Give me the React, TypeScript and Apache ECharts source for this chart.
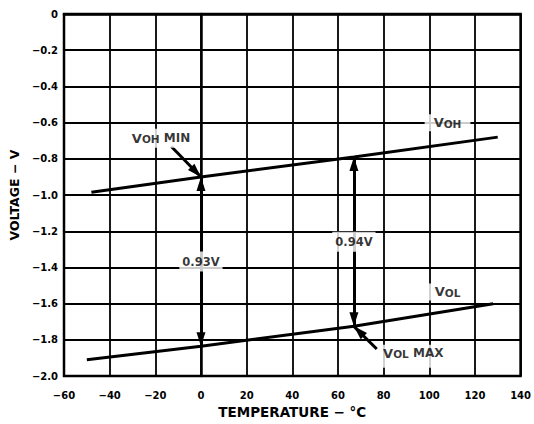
import React, { useEffect, useRef } from "react";
import * as echarts from "echarts";

// Axis ranges / ticks
const xMin = -60;
const xMax = 140;
const xStep = 20;
const yMin = -2.0;
const yMax = 0;
const yStep = 0.2;

// V_OH curve (temperature °C, volts)
const vohTemp = [-48, 0, 67, 130];
const vohVolt = [-0.985, -0.9, -0.79, -0.68];

// V_OL curve
const volTemp = [-50, 0, 67, 128];
const volVolt = [-1.91, -1.835, -1.725, -1.6];

// Double-headed span arrows between the curves
const spanTemp = [0, 67];
const spanTop = [-0.9, -0.79];
const spanBottom = [-1.835, -1.725];
const spanLabels = ["0.93V", "0.94V"];

// Callout labels
const calloutKeys = ["VOH", "VOL", "VOH_MIN", "VOL_MAX"];
const calloutTemp = [108, 108, -17.5, 93];
const calloutVolt = [-0.6, -1.535, -0.686, -1.89];

// Pointer arrows (from label to curve point)
const pointerFromTemp = [-13, 77];
const pointerFromVolt = [-0.732, -1.85];
const pointerToTemp = [0, 67];
const pointerToVolt = [-0.9, -1.725];

const FONT = "DejaVu Sans";

// arrow head (9 wide, 14 long) whose tip sits at the centre of a 28x28 box
const HEAD = "path://M0,0L0,0M28,28L28,28M14,14L18.5,28L9.5,28Z";

const rich = {
  v: { fontFamily: FONT, fontWeight: "bold", fontSize: 13, color: "#000", verticalAlign: "top", lineHeight: 13 },
  m: { fontFamily: FONT, fontWeight: "bold", fontSize: 12, color: "#000", verticalAlign: "top", lineHeight: 13 },
  s: { fontFamily: FONT, fontWeight: "bold", fontSize: 10.5, color: "#000", verticalAlign: "bottom", lineHeight: 11, padding: [10, 0, 0, 0] },
  n: { fontFamily: FONT, fontWeight: "bold", fontSize: 11.5, color: "#000" },
};

const calloutText: Record<string, string> = {
  VOH: "{v|V}{s|OH}",
  VOL: "{v|V}{s|OL}",
  VOH_MIN: "{v|V}{s|OH}{m| MIN}",
  VOL_MAX: "{v|V}{s|OL}{m| MAX}",
};
const calloutPad: Record<string, number[]> = {
  VOH: [2, 9, 2, 9],
  VOL: [2, 9, 2, 9],
  VOH_MIN: [3, 4, 3, 4],
  VOL_MAX: [2, 4, 8, 4],
};

const minus = (s: string) => s.replace("-", "\u2212");

export default function App() {
  const ref = useRef<HTMLDivElement>(null);
  useEffect(() => {
    if (!ref.current) return;
    const chart = echarts.init(ref.current, null, { renderer: "svg" });
    const axisText = { fontFamily: FONT, fontWeight: "bold" as const, fontSize: 10, color: "#000" };
    const labelBase = {
      show: true,
      position: "inside",
      color: "#000",
      textBorderWidth: 0,
      rich,
      backgroundColor: "#fff",
    };
    const option: any = {
      animation: false,
      backgroundColor: "#fff",
      grid: {
        left: 64,
        right: 11,
        top: 14,
        bottom: 43,
        show: true,
        borderColor: "#000",
        borderWidth: 2.5,
        backgroundColor: "transparent",
      },
      xAxis: {
        type: "value",
        min: xMin,
        max: xMax,
        interval: xStep,
        name: "TEMPERATURE \u2212 \u00B0C",
        nameLocation: "middle",
        nameGap: 27,
        nameTextStyle: { fontFamily: FONT, fontWeight: "bold", fontSize: 13.5, color: "#000" },
        axisLine: { show: true, lineStyle: { color: "#000", width: 2.5 } },
        axisTick: { show: false },
        axisLabel: { ...axisText, margin: 14, formatter: (v: number) => minus(String(v)) },
        splitLine: { show: true, lineStyle: { color: "#000", width: 1.8 } },
      },
      yAxis: {
        type: "value",
        min: yMin,
        max: yMax,
        interval: yStep,
        name: "VOLTAGE \u2212 V",
        nameLocation: "middle",
        nameGap: 38,
        nameTextStyle: { fontFamily: FONT, fontWeight: "bold", fontSize: 12.5, color: "#000" },
        axisLine: { show: true, lineStyle: { color: "#000", width: 2.5 } },
        axisTick: { show: false },
        axisLabel: {
          ...axisText,
          margin: 6,
          formatter: (v: number) => (Math.abs(v) < 1e-9 ? "0" : minus(v.toFixed(1))),
        },
        splitLine: { show: true, lineStyle: { color: "#000", width: 1.8 } },
      },
      series: [
        {
          type: "line",
          data: vohTemp.map((t, i) => [t, vohVolt[i]]),
          symbol: "none",
          lineStyle: { color: "#000", width: 3 },
          z: 3,
          silent: true,
        },
        {
          type: "line",
          data: volTemp.map((t, i) => [t, volVolt[i]]),
          symbol: "none",
          lineStyle: { color: "#000", width: 3 },
          z: 3,
          silent: true,
        },
        {
          type: "lines",
          coordinateSystem: "cartesian2d",
          data: spanTemp.map((t, i) => ({ coords: [[t, spanTop[i]], [t, spanBottom[i]]] })),
          symbol: [HEAD, HEAD],
          symbolSize: 28,
          itemStyle: { color: "#000" },
          lineStyle: { color: "#000", width: 3, opacity: 1, curveness: 0 },
          z: 4,
          silent: true,
        },
        {
          type: "lines",
          coordinateSystem: "cartesian2d",
          data: pointerFromTemp.map((t, i) => ({
            coords: [[t, pointerFromVolt[i]], [pointerToTemp[i], pointerToVolt[i]]],
          })),
          symbol: ["none", HEAD],
          symbolSize: 28,
          itemStyle: { color: "#000" },
          lineStyle: { color: "#000", width: 3, opacity: 1, curveness: 0 },
          z: 4,
          silent: true,
        },
        {
          type: "scatter",
          symbolSize: 0,
          z: 10,
          silent: true,
          data: [
            ...spanTemp.map((t, i) => ({
              value: [t, (spanTop[i] + spanBottom[i]) / 2],
              label: {
                ...labelBase,
                formatter: "{n|" + spanLabels[i] + "}",
                padding: [4, 3, 4, 3],
              },
            })),
            ...calloutKeys.map((k, i) => ({
              value: [calloutTemp[i], calloutVolt[i]],
              label: {
                ...labelBase,
                formatter: calloutText[k],
                padding: calloutPad[k],
              },
            })),
          ],
        },
      ],
    };
    chart.setOption(option);
    return () => chart.dispose();
  }, []);
  return (
    <div
      ref={ref}
      style={{ position: "absolute", left: 0, top: 0, width: 534, height: 424, background: "#fff" }}
    />
  );
}
